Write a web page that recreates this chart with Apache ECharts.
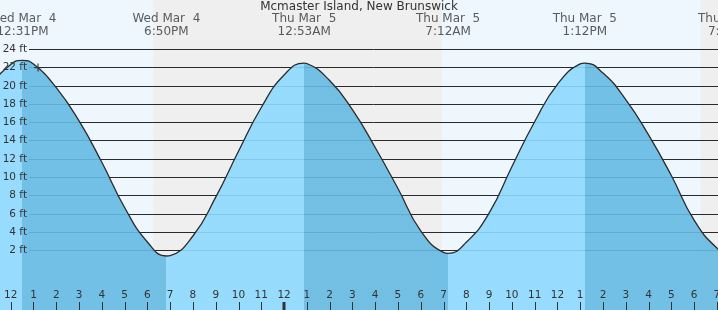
<!DOCTYPE html>
<html><head><meta charset="utf-8">
<script src="https://cdn.jsdelivr.net/npm/echarts@6/dist/echarts.min.js"></script>
<style>html,body{margin:0;padding:0;background:#fff}#c{width:718px;height:310px}</style>
</head><body><div id="c"></div>
<script>
// ---------- data (hours counted from Wed Mar 4, 00:00) ----------
const stationName = 'Mcmaster Island, New Brunswick';
const tideTimes   = [12.517, 18.833, 24.883, 31.2, 37.2, 43.583];
const tideHeights = [22.8, 1.38, 22.5, 1.67, 22.5, 1.6];
const tideTypes   = ['H', 'L', 'H', 'L', 'H', 'L'];
const tideLabels  = ['Wed Mar  4\n12:31PM', 'Wed Mar  4\n6:50PM', 'Thu Mar  5\n12:53AM',
                     'Thu Mar  5\n7:12AM', 'Thu Mar  5\n1:12PM', 'Thu Mar  5\n7:35PM'];
const hourTimes   = [11,12,13,14,15,16,17,18,19,20,21,22,23,24,25,26,27,28,29,30,31,32,33,34,35,36,37,38,39,40,41,42,43,44];
const hourHeights = [19.8,22.34,22.4,19.8,16.16,11.64,6.69,2.91,1.43,3.57,7.82,12.84,17.63,21.19,
                     22.45,20.58,17.39,13.26,8.77,4.13,1.77,2.88,6.07,11.15,16.08,20.17,22.4,
                     21.41,18.5,14.64,10.19,5.3,2.25,1.9];
const nightStarts = [18.26, 42.29];
const nightEnds   = [30.92, 49];
const nowMarker   = [13.2, 22.0];
const dayBoundaries = [24];
const hourLabels  = ['12','1','2','3','4','5','6','7','8','9','10','11'];
const ftTicks     = [2, 24, 2]; // min, max, step of the height grid

// ---------- layout ----------
const W = 718, H = 310;
const X_MIN = 11.530, X_MAX = 43.049;
const ZERO_Y = 268.6, PX_PER_FT = 9.136;
const Y_TOP = ZERO_Y / PX_PER_FT;
const Y_BOTTOM = -(H - ZERO_Y) / PX_PER_FT;
const GRID1_TOP = ZERO_Y - ftTicks[1] * PX_PER_FT;
const GRID1_H = (ftTicks[1] - ftTicks[0]) * PX_PER_FT;
const TICK_LEN = 8;

const FONT = 'DejaVu Sans';
const TEXT = '#333';
const RISE = 'rgb(141,217,255)';
const FALL = 'rgb(101,186,227)';
const DAY_BG = '#eef6fe';
const NIGHT_BG = '#efefef';

const tickHours = [];
for (let h = Math.ceil(X_MIN); h <= Math.floor(X_MAX); h++) tickHours.push(h);

const curve = hourTimes.map((t, i) => [t, hourHeights[i]])
  .concat(tideTimes.map((t, i) => [t, tideHeights[i]]))
  .sort((a, b) => a[0] - b[0]);

const pieces = [];
let prev = X_MIN - 10;
for (let i = 0; i < tideTimes.length; i++) {
  pieces.push({ gte: prev, lt: tideTimes[i], color: tideTypes[i] === 'H' ? RISE : FALL });
  prev = tideTimes[i];
}
pieces.push({ gte: prev, lt: X_MAX + 20, color: tideTypes[tideTypes.length - 1] === 'H' ? FALL : RISE });

const chart = echarts.init(document.getElementById('c'), null, { renderer: 'canvas', width: W, height: H });
chart.setOption({
  animation: false,
  backgroundColor: '#fff',
  title: {
    text: stationName, left: 'center', top: 1, padding: 0,
    textStyle: { fontFamily: FONT, fontSize: 12, fontWeight: 'normal', color: TEXT }
  },
  grid: [
    { left: 0, right: 0, top: 0, bottom: 0, show: true, backgroundColor: DAY_BG, borderWidth: 0, containLabel: false, outerBoundsMode: 'none' },
    { left: 29, right: 0, top: GRID1_TOP, height: GRID1_H, containLabel: false, outerBoundsMode: 'none' }
  ],
  visualMap: {
    type: 'piecewise', show: false, dimension: 0, seriesIndex: 1,
    pieces: pieces, outOfRange: { color: RISE }
  },
  xAxis: [
    {
      gridIndex: 0, type: 'value', min: X_MIN, max: X_MAX, position: 'bottom',
      minInterval: 1, maxInterval: 1, splitNumber: 32, z: 5,
      axisLine: { show: false, onZero: false },
      axisTick: { show: false },
      axisLabel: {
        inside: true, margin: 9, fontSize: 10.5, fontFamily: FONT, color: TEXT,
        showMinLabel: false, showMaxLabel: false,
        formatter: v => {
          if (Math.abs(v - Math.round(v)) > 1e-6) return '';
          return hourLabels[((Math.round(v) % 12) + 12) % 12];
        }
      },
      splitLine: { show: false }
    },
    { gridIndex: 1, type: 'value', min: 0, max: 1, show: false, axisLine: { onZero: false } }
  ],
  yAxis: [
    { gridIndex: 0, type: 'value', min: Y_BOTTOM, max: Y_TOP, show: false, axisLine: { onZero: false } },
    {
      gridIndex: 1, type: 'value', min: ftTicks[0], max: ftTicks[1], interval: ftTicks[2], position: 'left', z: 2,
      axisLine: { show: false, onZero: false }, axisTick: { show: false }, axisLabel: { show: false },
      splitLine: { show: true, lineStyle: { color: '#2a2a2a', width: 1 } }
    },
    {
      gridIndex: 1, type: 'value', min: ftTicks[0], max: ftTicks[1], interval: ftTicks[2], position: 'left', z: 5,
      axisLine: { show: false, onZero: false }, axisTick: { show: false }, splitLine: { show: false },
      axisLabel: { show: true, margin: 2, fontSize: 10.5, fontFamily: FONT, color: TEXT, formatter: '{value} ft' }
    }
  ],
  series: [
    {
      type: 'custom', xAxisIndex: 0, yAxisIndex: 0, z: 1, clip: true, silent: true,
      data: nightStarts.map((s, i) => [s, nightEnds[i]]),
      renderItem: (params, api) => {
        const a = api.coord([api.value(0), Y_TOP]);
        const b = api.coord([api.value(1), Y_BOTTOM]);
        return { type: 'rect', shape: { x: a[0], y: a[1], width: b[0] - a[0], height: b[1] - a[1] }, style: { fill: NIGHT_BG } };
      }
    },
    {
      type: 'line', xAxisIndex: 0, yAxisIndex: 0, z: 3, data: curve, smooth: 0.5,
      showSymbol: false, symbol: 'none', silent: true,
      lineStyle: { width: 0 },
      areaStyle: { opacity: 0.9, origin: 'start' }
    },
    {
      type: 'line', xAxisIndex: 0, yAxisIndex: 0, z: 4, data: curve, smooth: 0.5,
      showSymbol: false, symbol: 'none', silent: true,
      lineStyle: { width: 1.3, color: '#2b2b2b' }
    },
    {
      type: 'scatter', xAxisIndex: 0, yAxisIndex: 0, z: 6, clip: false, silent: true,
      symbolSize: 0,
      data: tideTimes.map(t => [t, Y_TOP]),
      label: {
        show: true, position: 'inside', offset: [0, 25.5],
        formatter: p => tideLabels[p.dataIndex],
        fontFamily: FONT, fontSize: 12, lineHeight: 12.5, color: TEXT, align: 'center'
      }
    },
    {
      type: 'scatter', xAxisIndex: 0, yAxisIndex: 0, z: 5, silent: true,
      symbol: 'path://M0,4.5H9M4.5,0V9', symbolSize: 8,
      itemStyle: { color: 'transparent', borderColor: '#2b2b2b', borderWidth: 1.3 },
      data: [nowMarker]
    },
    {
      type: 'custom', xAxisIndex: 0, yAxisIndex: 0, z: 7, clip: false, silent: true,
      data: tickHours.map(h => [h, Y_BOTTOM]),
      encode: { x: 0, y: 1 },
      renderItem: (params, api) => {
        const h = tickHours[params.dataIndex];
        const p = api.coord([h, Y_BOTTOM]);
        const thick = dayBoundaries.indexOf(h) >= 0;
        const w = thick ? 3 : 1;
        const x = Math.round(p[0]) + (thick ? 0 : 0.5);
        return {
          type: 'line',
          shape: { x1: x, y1: H, x2: x, y2: H - TICK_LEN },
          style: { stroke: TEXT, lineWidth: w }
        };
      }
    }
  ]
});
</script>
</body></html>
